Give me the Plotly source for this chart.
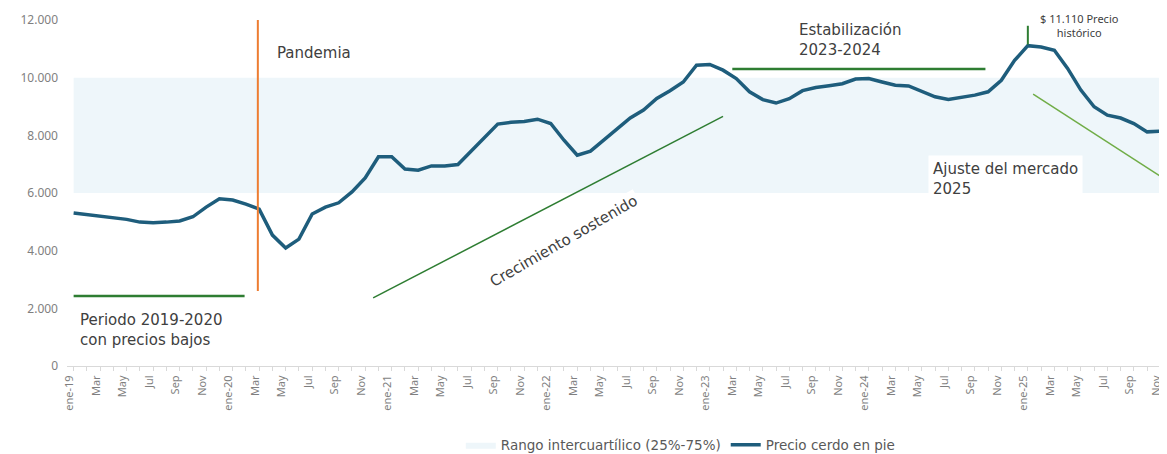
import plotly.graph_objs as go

# Precio cerdo en pie, mensual ene-2019 .. nov-2025
precio = [
    5310, 5260, 5200, 5140, 5085, 4990, 4965, 4990, 5030, 5175, 5510, 5800,   # 2019
    5755, 5615, 5440, 4540, 4090, 4400, 5270, 5510, 5660, 6040, 6520, 7255,   # 2020
    7255, 6830, 6790, 6940, 6940, 6990, 7450, 7950, 8390, 8450, 8480, 8560,   # 2021
    8410, 7830, 7310, 7450, 7830, 8240, 8600, 8880, 9280, 9550, 9850, 10430,  # 2022
    10460, 10260, 9970, 9510, 9240, 9120, 9270, 9550, 9660, 9720, 9790, 9950, # 2023
    9970, 9850, 9740, 9715, 9510, 9335, 9245, 9310, 9395, 9510, 9910, 10600,  # 2024
    11110, 11060, 10950, 10320, 9570, 8990, 8700, 8600, 8410, 8120, 8145,     # 2025
]
meses = list(range(len(precio)))

# rango intercuartilico
p25 = 6000
p75 = 10000

tick_labels = [
    "ene-19", "Mar", "May", "Jul", "Sep", "Nov",
    "ene-20", "Mar", "May", "Jul", "Sep", "Nov",
    "ene-21", "Mar", "May", "Jul", "Sep", "Nov",
    "ene-22", "Mar", "May", "Jul", "Sep", "Nov",
    "ene-23", "Mar", "May", "Jul", "Sep", "Nov",
    "ene-24", "Mar", "May", "Jul", "Sep", "Nov",
    "ene-25", "Mar", "May", "Jul", "Sep", "Nov",
]
tick_vals = meses[::2]

FONT = "Noto Sans"
FONT_ANOT = "DejaVu Sans"
TXT = "#404040"
GRIS = "#7f7f7f"
VERDE = "#2E7D32"

fig = go.Figure()

# banda 25%-75%
fig.add_trace(go.Scatter(x=meses, y=[p25] * len(meses), mode='lines',
                         line=dict(width=0), showlegend=False, hoverinfo='skip'))
fig.add_trace(go.Scatter(x=meses, y=[p75] * len(meses), mode='lines',
                         line=dict(width=0), fill='tonexty', fillcolor='#EEF6FA',
                         name='Rango intercuartílico (25%-75%)', hoverinfo='skip'))

fig.add_trace(go.Scatter(x=meses, y=precio, mode='lines',
                         line=dict(color='#1E5D7C', width=3.5),
                         name='Precio cerdo en pie'))

shapes = [
    # pandemia
    dict(type='line', x0=13.9, x1=13.9, y0=2600, y1=12000, line=dict(color='#ED7D31', width=2)),
    # periodo 2019-2020
    dict(type='line', x0=0, x1=12.9, y0=2430, y1=2430, line=dict(color=VERDE, width=2.5)),
    # crecimiento sostenido
    dict(type='line', x0=22.6, x1=49, y0=2360, y1=8660, line=dict(color=VERDE, width=1.5)),
    # estabilizacion
    dict(type='line', x0=49.7, x1=68.8, y0=10300, y1=10300, line=dict(color=VERDE, width=2.5)),
    # maximo historico
    dict(type='line', x0=72, x1=72, y0=11150, y1=11800, line=dict(color=VERDE, width=2)),
    # ajuste 2025
    dict(type='line', x0=72.4, x1=82.1, y0=9430, y1=6550, line=dict(color='#70AD47', width=1.5)),
]

big = dict(family=FONT_ANOT, size=15, color=TXT)
annotations = [
    dict(x=15.2, y=10850, text='Pandemia', xanchor='left', showarrow=False, font=big),
    dict(x=0.3, y=1250, text='Periodo 2019-2020<br>con precios bajos', xanchor='left',
         align='left', showarrow=False, bgcolor='white', font=big),
    dict(x=37.0, y=4330, text='Crecimiento sostenido', textangle=-30, showarrow=False,
         bgcolor='white', font=big),
    dict(x=54.6, y=11300, text='Estabilización<br>2023-2024', xanchor='left', align='left',
         showarrow=False, font=big),
    dict(x=75.9, y=11820, text='$ 11.110 Precio<br>histórico', showarrow=False,
         font=dict(size=11, color=TXT)),
    dict(x=64.5, y=6500, text='Ajuste del mercado<br>2025', xanchor='left', align='left',
         showarrow=False, bgcolor='white', borderpad=4, font=big),
]

# la pagina tiene 8px de margen en body: la figura se ajusta para ocupar la ventana
fig.update_layout(
    width=1159, height=446,
    margin=dict(l=59, r=0, t=12, b=88, autoexpand=False),
    paper_bgcolor='white', plot_bgcolor='white',
    separators=',.',
    font=dict(family=FONT, color=GRIS),
    shapes=shapes,
    annotations=annotations,
    legend=dict(orientation='h', x=0.558, xanchor='center', y=-0.228, yanchor='middle',
                traceorder='normal', font=dict(family=FONT_ANOT, size=13.5, color='#595959'),
                itemwidth=30),
    xaxis=dict(range=[-0.5, 82.5], tickvals=tick_vals, ticktext=tick_labels, tickangle=-90,
               tickfont=dict(size=11, color=GRIS), showgrid=False, zeroline=False,
               showline=True, linecolor='#D9D9D9', ticks='outside', ticklen=4,
               tickcolor='#D9D9D9', automargin=False, ticklabelshift=-4,
               minor=dict(dtick=1, ticks='outside', ticklen=4, tickcolor='#D9D9D9')),
    yaxis=dict(range=[0, 12000], dtick=2000, tickformat=',d', showgrid=False, zeroline=False,
               tickfont=dict(size=12, color=GRIS), ticks='', ticklabelstandoff=8,
               automargin=False),
)

fig.write_html("out.html")
